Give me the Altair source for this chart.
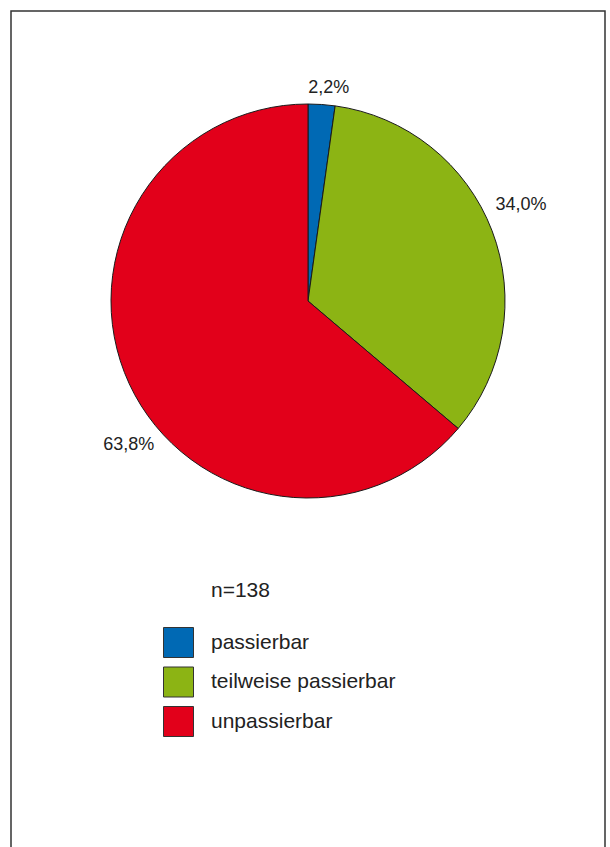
import altair as alt
import pandas as pd

categories = ["passierbar", "teilweise passierbar", "unpassierbar"]
values = [2.2, 34.0, 63.8]
labels = ["2,2%", "34,0%", "63,8%"]
colors = ["#0069b4", "#8cb414", "#e2001a"]
n_text = "n=138"

df = pd.DataFrame({"cat": categories, "val": values, "lbl": labels, "order": [0, 1, 2]})

FONT = "Liberation Sans"
CX, CY, R = 308, 301, 197

base = alt.Chart(df)

pie = base.mark_arc(stroke="#1a1a1a", strokeWidth=1).encode(
    theta=alt.Theta("val:Q", stack=True, scale=alt.Scale(domain=[0, 100])),
    order=alt.Order("order:Q"),
    color=alt.Color(
        "cat:N",
        scale=alt.Scale(domain=categories, range=colors),
        sort=categories,
        legend=alt.Legend(
            title=None,
            orient="none",
            legendX=163,
            legendY=627,
            symbolType="square",
            symbolSize=900,
            symbolStrokeColor="#333333",
            symbolStrokeWidth=1,
            symbolOpacity=1,
            labelFont=FONT,
            labelFontSize=21,
            labelColor="#222222",
            labelOffset=17,
            labelLimit=400,
            rowPadding=4.5,
            padding=0,
        ),
    ),
    x=alt.value(CX),
    y=alt.value(CY),
    radius=alt.value(R),
)

offsets = [(6, 0), (13, -20), (15, 54)]
label_layers = []
for cat, (ddx, ddy) in zip(categories, offsets):
    lyr = (
        base.transform_window(cum="sum(val)", sort=[alt.SortField("order")])
        .transform_calculate(mid="datum.cum - datum.val / 2")
        .transform_filter(alt.datum.cat == cat)
        .mark_text(font=FONT, fontSize=18, color="#222222", align="center", baseline="middle", dx=ddx, dy=ddy)
        .encode(
            theta=alt.Theta("mid:Q", stack=None, scale=alt.Scale(domain=[0, 100], range=[0, 6.283185307])),
            text="lbl:N",
            x=alt.value(CX),
            y=alt.value(CY),
            radius=alt.value(214),
        )
    )
    label_layers.append(lyr)

n_label = alt.Chart(pd.DataFrame({"t": [n_text]})).mark_text(
    font=FONT, fontSize=21, color="#222222", align="left", baseline="middle"
).encode(text="t:N", x=alt.value(211), y=alt.value(591))

frame = alt.Chart(pd.DataFrame({"a": [0]})).mark_rect(
    fill=None, fillOpacity=0, stroke="#333333", strokeWidth=1.5
).encode(x=alt.value(11), x2=alt.value(605), y=alt.value(11), y2=alt.value(900))

chart = (
    alt.layer(frame, pie, *label_layers, n_label)
    .resolve_scale(theta="independent")
    .properties(width=610, height=847, autosize=alt.AutoSizeParams(type="none"), padding=0, background="white")
    .configure_view(stroke=None)
)

chart.save("out.html", embed_options={"renderer": "svg", "actions": False})
